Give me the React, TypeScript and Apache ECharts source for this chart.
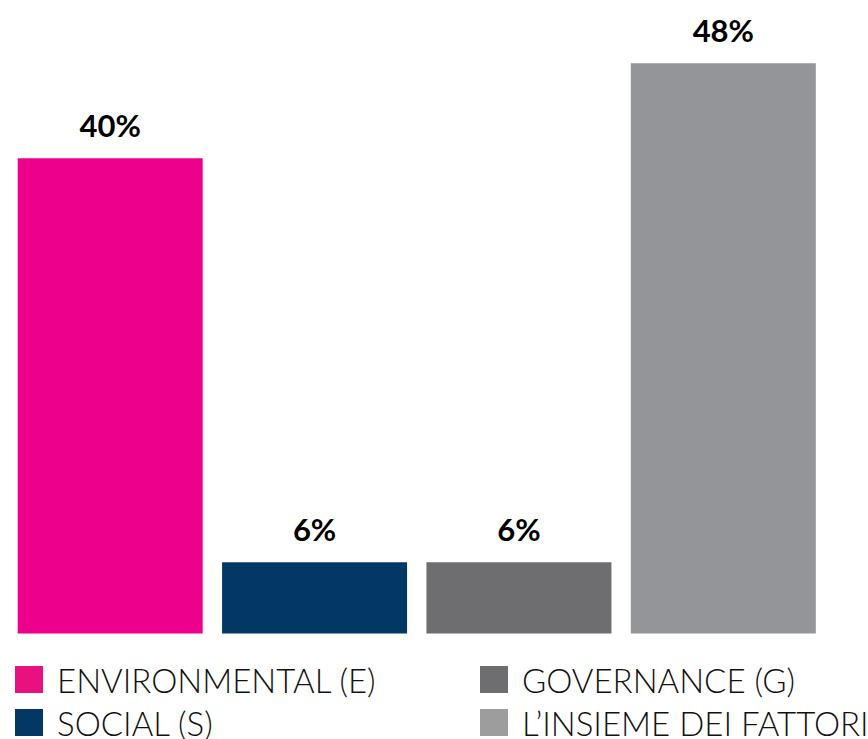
import React, { useEffect, useRef } from "react";
import * as echarts from "echarts";

const categories = ["E", "S", "G", "F"];
const seriesNames = ["ENVIRONMENTAL (E)", "SOCIAL (S)", "GOVERNANCE (G)", "L’INSIEME DEI FATTORI"];
const values = [40, 6, 6, 48];
const barColors = ["#EC008C", "#033865", "#6E6E71", "#939598"];
const legendColors = ["#E8117F", "#033865", "#6E6E71", "#9D9D9D"];

export default function App() {
  const ref = useRef<HTMLDivElement>(null);
  useEffect(() => {
    const chart = echarts.init(ref.current!, null, { renderer: "svg" });
    const series = seriesNames.map((name, i) => ({
      name,
      type: "bar",
      barWidth: 185,
      barGap: "-100%",
      itemStyle: { color: barColors[i] },
      data: values.map((v, j) => (j === i ? v : "-")),
      label: {
        show: true,
        position: "top",
        distance: 18,
        formatter: "{c}%",
        color: "#000",
        fontFamily: "Lato",
        fontWeight: "bold",
        fontSize: 31,
      },
    }));
    const legendPos = [
      { left: 10, top: 658 },
      { left: 10, top: 701 },
      { left: 475, top: 658 },
      { left: 475, top: 701 },
    ];
    const legends = seriesNames.map((name, i) => ({
      left: legendPos[i].left,
      top: legendPos[i].top,
      padding: 5,
      itemWidth: 28,
      itemHeight: 27,
      icon: "rect",
      selectedMode: false,
      textStyle: {
        fontFamily: "Lato",
        fontWeight: 300,
        fontSize: 33,
        lineHeight: 27,
        color: "#111",
        padding: [5, 0, 0, 9],
      },
      data: [{ name, itemStyle: { color: legendColors[i] } }],
    }));
    chart.setOption({
      animation: false,
      grid: { left: 8, top: 39.5, width: 817.5, height: 594 },
      xAxis: {
        type: "category",
        data: categories,
        axisLine: { show: false },
        axisTick: { show: false },
        axisLabel: { show: false },
      },
      yAxis: {
        type: "value",
        min: 0,
        max: 50,
        show: false,
        splitLine: { show: false },
      },
      legend: legends,
      series,
    });
    return () => chart.dispose();
  }, []);
  return <div ref={ref} style={{ position: "absolute", left: 0, top: 0, width: 868, height: 739 }} />;
}
